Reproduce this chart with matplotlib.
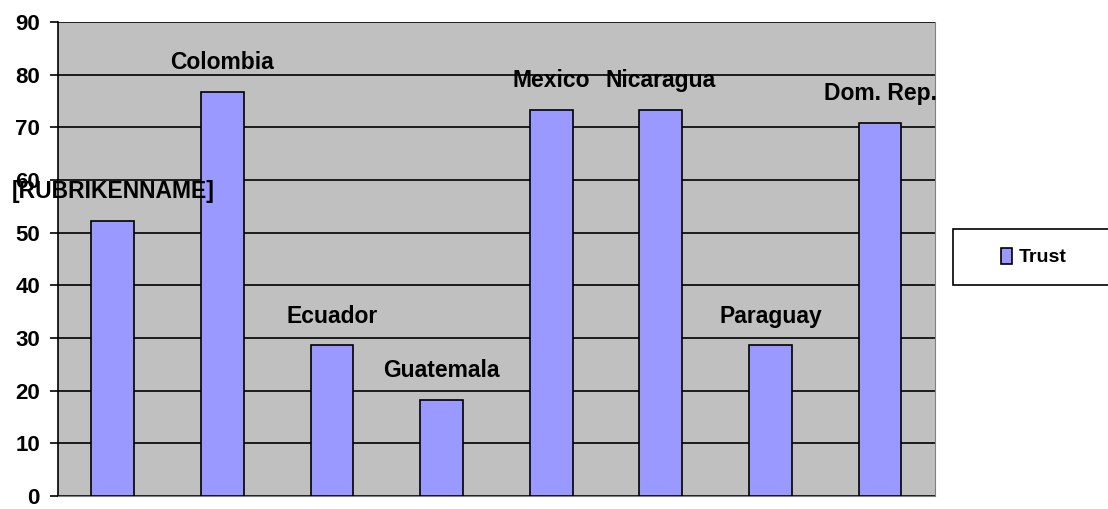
import matplotlib.pyplot as plt
from matplotlib.patches import Rectangle

countries = ["[RUBRIKENNAME]", "Colombia", "Ecuador", "Guatemala",
             "Mexico", "Nicaragua", "Paraguay", "Dom. Rep."]
trust = [52.2, 76.8, 28.6, 18.3, 73.3, 73.3, 28.6, 70.8]
yticks = [0, 10, 20, 30, 40, 50, 60, 70, 80, 90]

plt.rcParams['font.family'] = ['Liberation Sans', 'DejaVu Sans']

fig = plt.figure(figsize=(11.08, 5.09), dpi=100)
ax = fig.add_axes([0.0523, 0.0255, 0.7915, 0.9313])
ax.set_facecolor('#c0c0c0')

x = list(range(len(countries)))
bars = ax.bar(x, trust, width=0.39, color='#9999ff', edgecolor='black',
              linewidth=1.2, label='Trust', zorder=3)

for xi, val, name in zip(x, trust, countries):
    ax.annotate(name, (xi, val), xytext=(0, 21), textcoords='offset points',
                ha='center', va='center', fontsize=16.5, fontweight='bold',
                zorder=4, annotation_clip=False)

ax.set_xlim(-0.5, len(countries) - 0.5)
ax.set_ylim(0, 90)
ax.set_yticks(yticks)
ax.set_xticks([])
ax.yaxis.grid(True, color='black', linewidth=1.2, zorder=1)
ax.set_axisbelow(True)
ax.tick_params(axis='y', length=6, width=1.2, labelsize=16, pad=7)
for lbl in ax.get_yticklabels():
    lbl.set_fontweight('bold')

ax.spines['top'].set_visible(False)
ax.spines['left'].set_linewidth(1.2)
ax.spines['bottom'].set_color('#808080')
ax.spines['right'].set_color('#808080')

# legend box runs off the right edge
fig.patches.append(Rectangle((0.860, 0.440), 0.16, 0.110, transform=fig.transFigure,
                             facecolor='white', edgecolor='black', linewidth=1.2))
fig.legend(handles=[bars], labels=['Trust'], loc='center left',
           bbox_to_anchor=(0.888, 0.495), frameon=False,
           prop={'size': 14, 'weight': 'bold'},
           handlelength=0.55, handleheight=0.9, handletextpad=0.35)

fig.savefig('out.png', dpi=100)
